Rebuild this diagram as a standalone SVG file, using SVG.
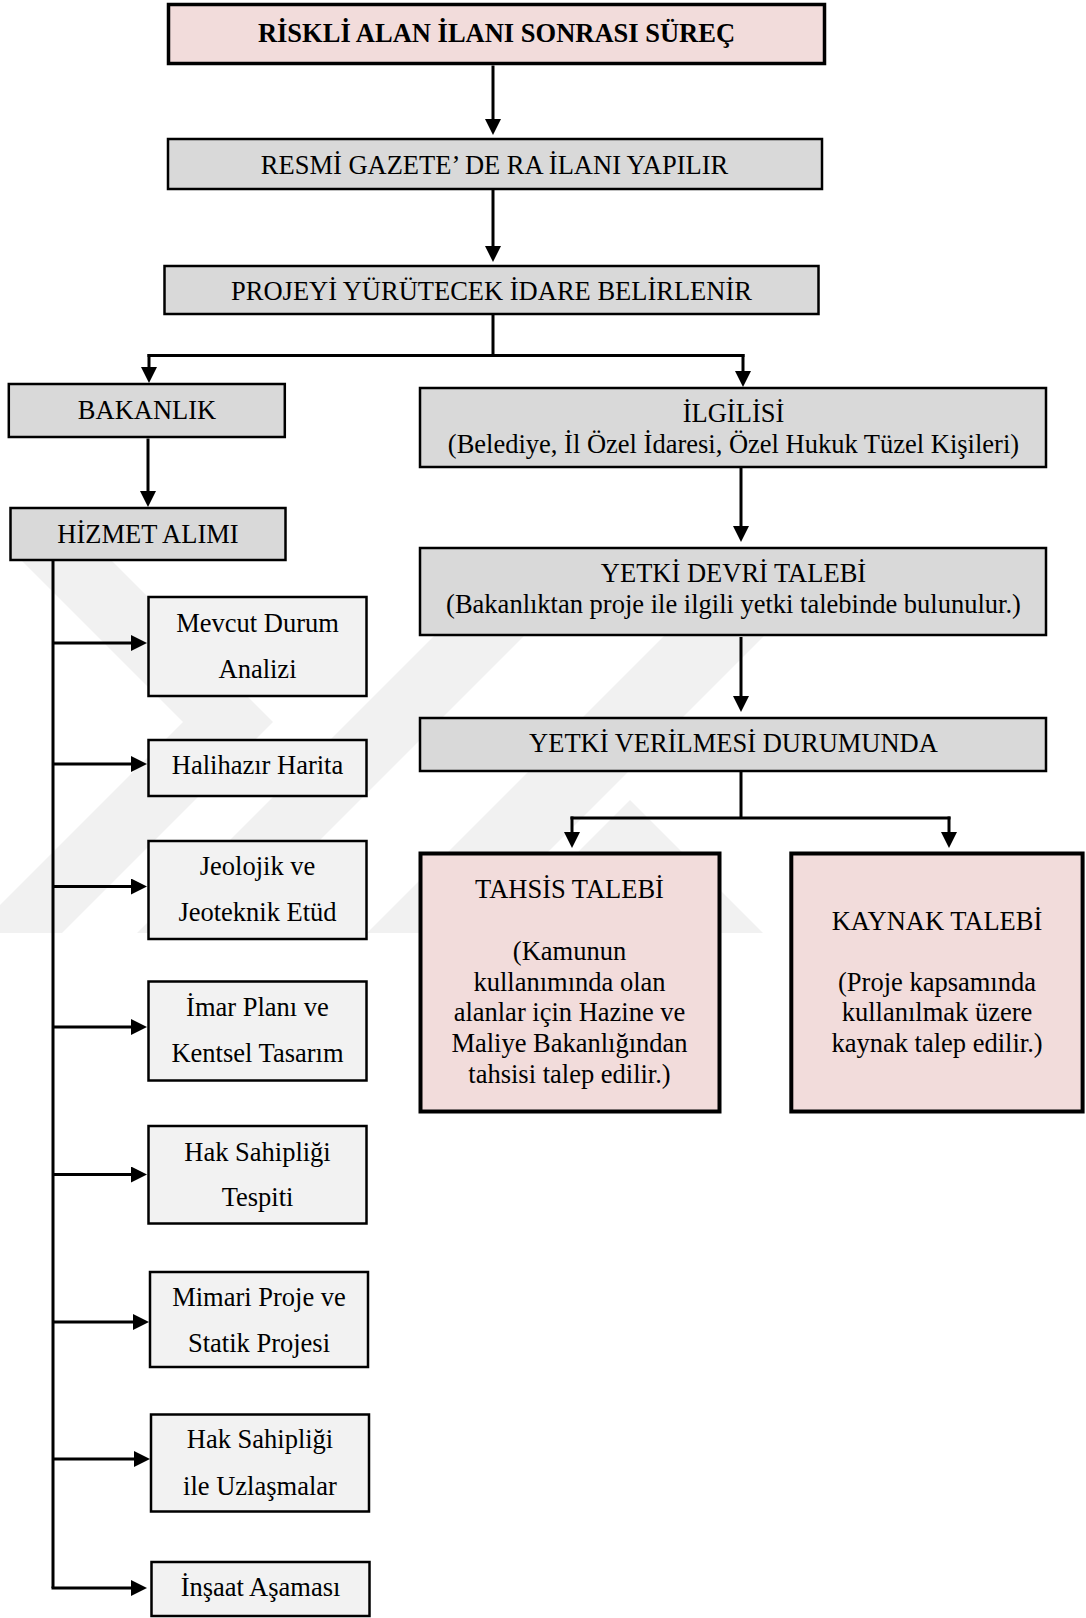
<svg xmlns="http://www.w3.org/2000/svg" width="1086" height="1618" viewBox="0 0 1086 1618">
<defs>
<style>
.t{font-family:"Liberation Serif","Times New Roman",serif;font-size:26.5px;fill:#000;text-anchor:middle}
.b{font-weight:bold}
.gray{fill:#d9d9d9;stroke:#000;stroke-width:2.5}
.light{fill:#f2f2f2;stroke:#000;stroke-width:2.5}
.pink{fill:#f2dcdb;stroke:#000;stroke-width:4}
.title{fill:#f2dcdb;stroke:#000;stroke-width:3.5}
.c{fill:none;stroke:#000;stroke-width:3}
.a{fill:none;stroke:#000;stroke-width:3;marker-end:url(#arr)}
.wm{fill:#f1f1f1}
</style>
<marker id="arr" markerUnits="userSpaceOnUse" viewBox="0 0 16 16" markerWidth="16" markerHeight="16" refX="6" refY="8" orient="auto">
<path d="M0,0 L16,8 L0,16 z" fill="#000"/>
</marker>
</defs>
<rect width="1086" height="1618" fill="#fff"/>
<g id="watermark">
<polygon class="wm" points="21,560 111,560 273,722 62,933 0,933 0,905 183,722"/>
<polygon class="wm" points="510,560 600,560 227,933 137,933"/>
<polygon class="wm" points="740,560 840,560 467,933 367,933"/>
<polygon class="wm" points="630,800 763,933 683,933 630,880 577,933 497,933"/>
</g>
<g id="connectors">
<path class="a" d="M493,65.5 V125"/>
<path class="a" d="M493,190 V252"/>
<path class="c" d="M493,315 V355.5 M147.5,355.5 H744.5"/>
<path class="a" d="M149,354 V373"/>
<path class="a" d="M743,354 V377"/>
<path class="a" d="M148,438.5 V497"/>
<path class="c" d="M53,561 V1588"/>
<path class="a" d="M51.5,1588 H137"/>
<path class="a" d="M53,643 H137"/>
<path class="a" d="M53,764 H137"/>
<path class="a" d="M53,886.5 H137"/>
<path class="a" d="M53,1027 H137"/>
<path class="a" d="M53,1174.5 H137"/>
<path class="a" d="M53,1322 H139"/>
<path class="a" d="M53,1459 H140"/>
<path class="a" d="M741,468 V532"/>
<path class="a" d="M741,637 V702"/>
<path class="c" d="M741,772 V818 M570.5,818 H950.5"/>
<path class="a" d="M572,816.5 V838"/>
<path class="a" d="M949,816.5 V838"/>
</g>
<g id="n-title">
<rect class="title" x="168.5" y="4.5" width="656" height="59"/>
<text class="t b" x="496.5" y="42">RİSKLİ ALAN İLANI SONRASI SÜREÇ</text>
</g>
<g id="n-resmi">
<rect class="gray" x="168" y="139" width="654" height="50"/>
<text class="t" x="494.5" y="173.5">RESMİ GAZETE’ DE RA İLANI YAPILIR</text>
</g>
<g id="n-proje">
<rect class="gray" x="164.5" y="266" width="654" height="48"/>
<text class="t" x="491.5" y="300">PROJEYİ YÜRÜTECEK İDARE BELİRLENİR</text>
</g>
<g id="n-bakanlik">
<rect class="gray" x="8.8" y="384" width="276" height="53"/>
<text class="t" x="147" y="419">BAKANLIK</text>
</g>
<g id="n-hizmet">
<rect class="gray" x="10.5" y="508" width="275" height="52"/>
<text class="t" x="148" y="542.5">HİZMET ALIMI</text>
</g>
<g id="n-ilgilisi">
<rect class="gray" x="420" y="388" width="626" height="79"/>
<text class="t" x="733.5" y="421.7">İLGİLİSİ</text>
<text class="t" x="733.5" y="453.3">(Belediye, İl Özel İdaresi, Özel Hukuk Tüzel Kişileri)</text>
</g>
<g id="n-yetkidevri">
<rect class="gray" x="420" y="548" width="626" height="87"/>
<text class="t" x="733.5" y="581.7">YETKİ DEVRİ TALEBİ</text>
<text class="t" x="733.5" y="613.3">(Bakanlıktan proje ile ilgili yetki talebinde bulunulur.)</text>
</g>
<g id="n-yetkiverilmesi">
<rect class="gray" x="420" y="718" width="626" height="53"/>
<text class="t" x="733.5" y="751.7">YETKİ VERİLMESİ DURUMUNDA</text>
</g>
<g id="n-tahsis">
<rect class="pink" x="420.5" y="853.5" width="299" height="258"/>
<text class="t" x="569.5" y="898.3">TAHSİS TALEBİ</text>
<text class="t" x="569.5" y="959.5">(Kamunun</text>
<text class="t" x="569.5" y="990.5">kullanımında olan</text>
<text class="t" x="569.5" y="1021">alanlar için Hazine ve</text>
<text class="t" x="569.5" y="1052">Maliye Bakanlığından</text>
<text class="t" x="569.5" y="1083">tahsisi talep edilir.)</text>
</g>
<g id="n-kaynak">
<rect class="pink" x="791.3" y="853.5" width="291.3" height="258"/>
<text class="t" x="937" y="930">KAYNAK TALEBİ</text>
<text class="t" x="937" y="990.5">(Proje kapsamında</text>
<text class="t" x="937" y="1021">kullanılmak üzere</text>
<text class="t" x="937" y="1052">kaynak talep edilir.)</text>
</g>
<g id="n-mevcut">
<rect class="light" x="148.5" y="597" width="218" height="99"/>
<text class="t" x="257.5" y="632.3">Mevcut Durum</text>
<text class="t" x="257.5" y="677.7">Analizi</text>
</g>
<g id="n-halihazir">
<rect class="light" x="148.5" y="740" width="218" height="56"/>
<text class="t" x="257.5" y="774.3">Halihazır Harita</text>
</g>
<g id="n-jeolojik">
<rect class="light" x="148.5" y="841" width="218" height="98"/>
<text class="t" x="257.5" y="875">Jeolojik ve</text>
<text class="t" x="257.5" y="921">Jeoteknik Etüd</text>
</g>
<g id="n-imar">
<rect class="light" x="148.5" y="981.5" width="218" height="99"/>
<text class="t" x="257.5" y="1016">İmar Planı ve</text>
<text class="t" x="257.5" y="1061.7">Kentsel Tasarım</text>
</g>
<g id="n-haksahipligi">
<rect class="light" x="148.5" y="1126" width="218" height="97.5"/>
<text class="t" x="257.5" y="1161">Hak Sahipliği</text>
<text class="t" x="257.5" y="1206">Tespiti</text>
</g>
<g id="n-mimari">
<rect class="light" x="150" y="1272" width="218" height="95"/>
<text class="t" x="259" y="1305.7">Mimari Proje ve</text>
<text class="t" x="259" y="1351.7">Statik Projesi</text>
</g>
<g id="n-uzlasma">
<rect class="light" x="151" y="1414.5" width="218" height="97"/>
<text class="t" x="260" y="1448.3">Hak Sahipliği</text>
<text class="t" x="260" y="1495">ile Uzlaşmalar</text>
</g>
<g id="n-insaat">
<rect class="light" x="151.5" y="1562" width="218" height="54"/>
<text class="t" x="260.5" y="1596">İnşaat Aşaması</text>
</g>
</svg>
